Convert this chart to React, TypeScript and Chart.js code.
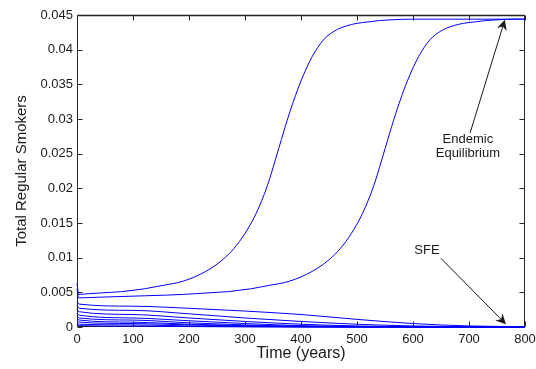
import React, { useEffect, useRef } from "react";
import { Chart, registerables } from "chart.js";

Chart.register(...registerables);

const FONT = '"Liberation Sans", Arial, Helvetica, sans-serif';

// Axis ticks
const xTicks = [0, 100, 200, 300, 400, 500, 600, 700, 800];
const yTicks = [0, 0.005, 0.01, 0.015, 0.02, 0.025, 0.03, 0.035, 0.04, 0.045];
const yTickLabels = ["0", "0.005", "0.01", "0.015", "0.02", "0.025", "0.03", "0.035", "0.04", "0.045"];

// Trajectory converging to the endemic equilibrium (early)
const rise1Time = [0, 3, 20, 40, 60, 80, 100, 120, 140, 160, 180, 200, 220, 240, 260, 280, 300, 320, 340, 360, 380, 400, 420, 440, 460, 480, 500, 520, 540, 560, 600, 700, 800];
const rise1Value = [0.0063, 0.0047, 0.0048, 0.0049, 0.005, 0.0051, 0.0053, 0.0055, 0.0058, 0.0061, 0.0064, 0.0069, 0.0076, 0.0085, 0.0097, 0.0113, 0.0135, 0.0164, 0.0204, 0.0257, 0.031, 0.0355, 0.039, 0.0414, 0.0427, 0.0434, 0.0438, 0.044, 0.0442, 0.0443, 0.0444, 0.0444, 0.0444];

// Trajectory converging to the endemic equilibrium (late)
const rise2Time = [0, 3, 40, 80, 120, 160, 190, 210, 230, 250, 270, 290, 310, 330, 350, 370, 390, 410, 430, 450, 470, 490, 510, 530, 550, 570, 590, 610, 630, 650, 670, 690, 710, 730, 750, 780, 800];
const rise2Value = [0.0055, 0.0042, 0.0043, 0.0044, 0.0045, 0.0046, 0.0047, 0.0048, 0.0049, 0.005, 0.0051, 0.0053, 0.0055, 0.0058, 0.0061, 0.0064, 0.0069, 0.0076, 0.0085, 0.0097, 0.0113, 0.0135, 0.0164, 0.0204, 0.0257, 0.031, 0.0355, 0.039, 0.0414, 0.0427, 0.0434, 0.0438, 0.044, 0.0442, 0.0443, 0.0444, 0.0444];

// Trajectories decaying to the smoking-free equilibrium
const decayTime = [0, 4, 100, 200, 300, 400, 500, 600, 700, 800];
const decay1 = [0.0037, 0.0033, 0.003, 0.0027, 0.0023, 0.0018, 0.0011, 0.0005, 0.00015, 0.00005];
const decay2 = [0.0031, 0.0027, 0.0024, 0.0019, 0.0013, 0.0008, 0.0004, 0.00015, 0.00005, 0.00002];
const decay3 = [0.0025, 0.0022, 0.0018, 0.0013, 0.0008, 0.0004, 0.00015, 0.00005, 0.00002, 0];
const decay4 = [0.002, 0.0017, 0.0013, 0.0009, 0.0005, 0.0002, 0.00008, 0.00003, 0.00001, 0];
const decay5 = [0.0016, 0.0013, 0.001, 0.0006, 0.0003, 0.0001, 0.00004, 0.00001, 0, 0];
const decay6 = [0.0012, 0.001, 0.0007, 0.0004, 0.0002, 0.00007, 0.00002, 0, 0, 0];
const decay7 = [0.0009, 0.0007, 0.0005, 0.0003, 0.00012, 0.00004, 0.00001, 0, 0, 0];
const decay8 = [0.0006, 0.0004, 0.0003, 0.00015, 0.00006, 0.00002, 0, 0, 0, 0];
const decay9 = [0.0003, 0.0002, 0.00013, 0.00006, 0.00002, 0, 0, 0, 0, 0];
const decaySeries = [decay1, decay2, decay3, decay4, decay5, decay6, decay7, decay8, decay9];

// Annotations (data coordinates)
const endemicLabel = ["Endemic", "Equilibrium"];
const endemicLabelAt = [698, 0.0261];
const endemicArrowFrom = [702, 0.028];
const endemicArrowTo = [764, 0.0443];
const sfeLabel = "SFE";
const sfeLabelAt = [625, 0.011];
const sfeArrowFrom = [650, 0.0099];
const sfeArrowTo = [766, 0.0004];

const framePlugin = {
  id: "frame",
  beforeDatasetsDraw(chart: any) {
    const { ctx, chartArea: a, scales } = chart;
    ctx.save();
    ctx.strokeStyle = "#262626";
    ctx.lineWidth = 1;
    const L = Math.round(a.left) + 0.5;
    const R = Math.round(a.right) - 0.5;
    const T = Math.round(a.top) + 0.5;
    const B = Math.round(a.bottom) - 0.5;
    ctx.beginPath();
    ctx.moveTo(L, B);
    ctx.lineTo(R, B);
    ctx.lineTo(R, T);
    ctx.moveTo(L, T);
    ctx.lineTo(L, B);
    ctx.stroke();
    ctx.lineWidth = 1.6;
    ctx.beginPath();
    ctx.moveTo(L, T);
    ctx.lineTo(R + 0.5, T);
    ctx.stroke();
    ctx.lineWidth = 1;
    const len = 5;
    ctx.beginPath();
    for (const v of xTicks) {
      const px = Math.round(scales.x.getPixelForValue(v)) + 0.5;
      ctx.moveTo(px, B);
      ctx.lineTo(px, B - len);
      ctx.moveTo(px, T);
      ctx.lineTo(px, T + len);
    }
    for (const v of yTicks) {
      const py = Math.round(scales.y.getPixelForValue(v)) + 0.5;
      ctx.moveTo(L, py);
      ctx.lineTo(L + len, py);
      ctx.moveTo(R, py);
      ctx.lineTo(R - len, py);
    }
    ctx.stroke();
    ctx.restore();
  },
};

function drawArrow(ctx: CanvasRenderingContext2D, x1: number, y1: number, x2: number, y2: number) {
  const ang = Math.atan2(y2 - y1, x2 - x1);
  const headLen = 10;
  const headHalf = 5;
  const back = 7;
  const bx = x2 - headLen * Math.cos(ang);
  const by = y2 - headLen * Math.sin(ang);
  const nx = x2 - back * Math.cos(ang);
  const ny = y2 - back * Math.sin(ang);
  ctx.beginPath();
  ctx.moveTo(x1, y1);
  ctx.lineTo(nx, ny);
  ctx.stroke();
  ctx.beginPath();
  ctx.moveTo(x2, y2);
  ctx.lineTo(bx - headHalf * Math.sin(ang), by + headHalf * Math.cos(ang));
  ctx.lineTo(nx, ny);
  ctx.lineTo(bx + headHalf * Math.sin(ang), by - headHalf * Math.cos(ang));
  ctx.closePath();
  ctx.fill();
}

const annotationPlugin = {
  id: "annot",
  afterDatasetsDraw(chart: any) {
    const { ctx, scales } = chart;
    const px = (p: number[]) => [scales.x.getPixelForValue(p[0]), scales.y.getPixelForValue(p[1])];
    ctx.save();
    ctx.fillStyle = "#1a1a1a";
    ctx.strokeStyle = "#1a1a1a";
    ctx.lineWidth = 1;
    ctx.font = `13px ${FONT}`;
    ctx.textAlign = "center";
    ctx.textBaseline = "middle";
    const [ex, ey] = px(endemicLabelAt);
    ctx.fillText(endemicLabel[0], ex, ey - 7);
    ctx.fillText(endemicLabel[1], ex, ey + 7);
    const [sx, sy] = px(sfeLabelAt);
    ctx.fillText(sfeLabel, sx, sy);
    const [a1x, a1y] = px(endemicArrowFrom);
    const [a2x, a2y] = px(endemicArrowTo);
    drawArrow(ctx, a1x, a1y, a2x, a2y);
    const [b1x, b1y] = px(sfeArrowFrom);
    const [b2x, b2y] = px(sfeArrowTo);
    drawArrow(ctx, b1x, b1y, b2x, b2y);
    ctx.restore();
  },
};

export default function App() {
  const ref = useRef<HTMLCanvasElement>(null);
  useEffect(() => {
    const canvas = ref.current;
    if (!canvas) return;
    const mk = (t: number[], v: number[]) => t.map((x, i) => ({ x, y: v[i] }));
    const series = [mk(rise1Time, rise1Value), mk(rise2Time, rise2Value), ...decaySeries.map((v) => mk(decayTime, v))];
    const datasets = series.map((data) => ({
      data,
      borderColor: "#0000ff",
      borderWidth: 1,
      pointRadius: 0,
      cubicInterpolationMode: "monotone" as const,
      fill: false,
      clip: 3,
    }));
    const chart = new Chart(canvas, {
      type: "line",
      data: { datasets },
      options: {
        animation: false,
        responsive: false,
        maintainAspectRatio: false,
        parsing: false,
        layout: { padding: { top: 15, right: 11, left: 0, bottom: 0 } },
        plugins: { legend: { display: false }, tooltip: { enabled: false } },
        scales: {
          x: {
            type: "linear",
            min: 0,
            max: 800,
            afterBuildTicks: (s: any) => {
              s.ticks = xTicks.map((v) => ({ value: v }));
            },
            afterFit: (s: any) => {
              s.height = 42;
              s.paddingLeft = 0;
              s.paddingRight = 0;
            },
            grid: { display: false, drawTicks: false },
            border: { display: false },
            ticks: {
              padding: 5,
              maxRotation: 0,
              autoSkip: false,
              color: "#1a1a1a",
              font: { family: FONT, size: 13 },
              callback: (v: any) => String(v),
            },
            title: {
              display: true,
              text: "Time (years)",
              color: "#1a1a1a",
              font: { family: FONT, size: 16 },
              padding: { top: 0, bottom: 6 },
            },
          },
          y: {
            type: "linear",
            min: 0,
            max: 0.045,
            afterBuildTicks: (s: any) => {
              s.ticks = yTicks.map((v) => ({ value: v }));
            },
            afterFit: (s: any) => {
              s.width = 77;
              s.paddingTop = 0;
              s.paddingBottom = 0;
            },
            grid: { display: false, drawTicks: false },
            border: { display: false },
            ticks: {
              padding: 4,
              autoSkip: false,
              color: "#1a1a1a",
              font: { family: FONT, size: 13 },
              callback: (v: any) => {
                const i = yTicks.findIndex((t) => Math.abs(t - v) < 1e-9);
                return i >= 0 ? yTickLabels[i] : "";
              },
            },
            title: {
              display: true,
              text: "Total Regular Smokers",
              color: "#1a1a1a",
              font: { family: FONT, size: 15 },
              padding: { top: 13, bottom: 0 },
            },
          },
        },
      },
      plugins: [framePlugin, annotationPlugin],
    } as any);
    return () => chart.destroy();
  }, []);
  return (
    <div style={{ position: "fixed", left: 0, top: 0, width: 536, height: 369, background: "#fff" }}>
      <canvas ref={ref} width={536} height={369} style={{ width: 536, height: 369, display: "block" }} />
    </div>
  );
}
